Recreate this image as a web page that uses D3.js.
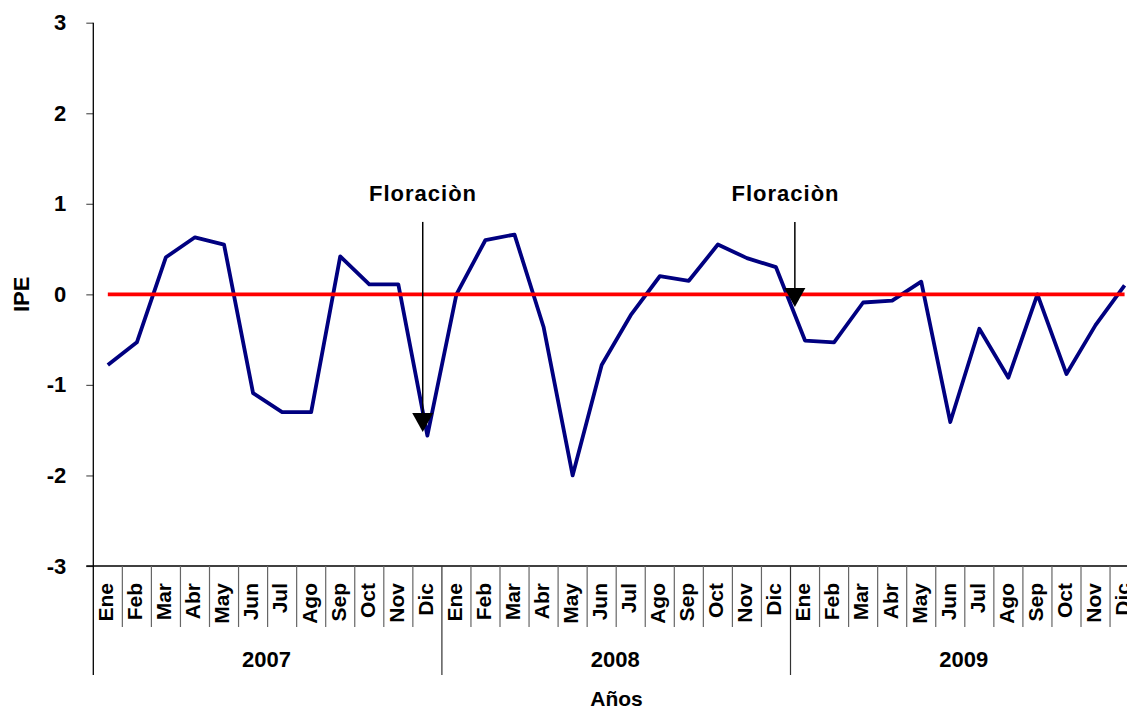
<!DOCTYPE html>
<html>
<head>
<meta charset="utf-8">
<script src="https://cdn.jsdelivr.net/npm/d3@7"></script>
<style>
  html, body { margin: 0; padding: 0; background: #fff; }
  svg { display: block; font-family: "Liberation Sans", Arial, sans-serif; font-weight: bold; }
</style>
</head>
<body>
<svg id="chart" width="1127" height="710"></svg>
<script>
// ---- data ----
const years = ["2007", "2008", "2009"];
const months = ["Ene","Feb","Mar","Abr","May","Jun","Jul","Ago","Sep","Oct","Nov","Dic"];
const ipe2007 = [-0.78, -0.53, 0.41, 0.63, 0.55, -1.09, -1.30, -1.30, 0.42, 0.11, 0.11, -1.56];
const ipe2008 = [0.00, 0.60, 0.66, -0.36, -2.00, -0.78, -0.23, 0.20, 0.15, 0.55, 0.40, 0.30];
const ipe2009 = [-0.51, -0.53, -0.09, -0.07, 0.14, -1.41, -0.38, -0.92, 0.00, -0.88, -0.34, 0.10];
const referenceLevel = 0;
const yTicks = [-3, -2, -1, 0, 1, 2, 3];
const yTickLabels = ["-3", "-2", "-1", "0", "1", "2", "3"];
const annotLabels = ["Floraciòn", "Floraciòn"];
const annotArrowAt = [10.84, 23.65];   // position in month index units
const annotTextAt = [10.85, 23.33];
const annotTipValue = [-1.52, -0.14];
const annotTopValue = 0.80;
const annotTextValue = 1.03;
const yLabel = "IPE";
const xLabel = "Años";

(function () {
// ---- build ----
const ipeByYear = [ipe2007, ipe2008, ipe2009];
const rows = [];
years.forEach((yr, yi) => months.forEach((m, mi) => rows.push({key: yr + "-" + m, year: yr, month: m, value: ipeByYear[yi][mi]})));

const svg = d3.select("#chart");
const pLeft = 93.3, pRight = 1139.1, pTop = 22.7, pBottom = 566;

const x = d3.scaleBand().domain(rows.map(d => d.key)).range([pLeft, pRight]).padding(0);
const xIdx = d3.scaleLinear().domain([-0.5, rows.length - 0.5]).range([pLeft, pRight]);
const y = d3.scaleLinear().domain([-3, 3]).range([pBottom, pTop]);
const cx = d => x(d.key) + x.bandwidth() / 2;

// y axis
const yAxis = d3.axisLeft(y).tickValues(yTicks).tickSize(7).tickPadding(20)
  .tickFormat(d => yTickLabels[yTicks.indexOf(d)]);
const gy = svg.append("g").attr("transform", `translate(${pLeft},0)`).call(yAxis);
gy.select(".domain").remove();
gy.selectAll(".tick line").attr("stroke", "#555").attr("stroke-width", 1.2);
gy.selectAll(".tick text").attr("font-size", 22).attr("font-weight", "bold").attr("fill", "#000")
  .attr("font-family", "Liberation Sans, Arial, sans-serif");
svg.append("line").attr("x1", pLeft).attr("x2", pLeft).attr("y1", pTop).attr("y2", 675)
  .attr("stroke", "#000").attr("stroke-width", 1.3);

// x axis baseline
svg.append("line").attr("x1", pLeft - 7).attr("x2", pRight).attr("y1", pBottom).attr("y2", pBottom)
  .attr("stroke", "#000").attr("stroke-width", 1.3);

// month separators
svg.append("g").selectAll("line").data(rows.slice(1)).join("line")
  .attr("x1", d => x(d.key)).attr("x2", d => x(d.key))
  .attr("y1", pBottom).attr("y2", d => d.month === "Ene" ? 675 : 627)
  .attr("stroke", d => d.month === "Ene" ? "#333" : "#666").attr("stroke-width", 1.2);
svg.append("line").attr("x1", pRight).attr("x2", pRight).attr("y1", pBottom).attr("y2", 675)
  .attr("stroke", "#333").attr("stroke-width", 1.2);

// month labels
svg.append("g").selectAll("text").data(rows).join("text")
  .attr("transform", d => `translate(${cx(d) - 2},583) rotate(-90)`)
  .attr("text-anchor", "end").attr("dy", "0.35em")
  .attr("font-size", 21).attr("fill", "#000")
  .text(d => d.month);

// year labels
svg.append("g").selectAll("text").data(years).join("text")
  .attr("x", yr => {
    const ks = rows.filter(r => r.year === yr);
    return (x(ks[0].key) + x(ks[ks.length - 1].key) + x.bandwidth()) / 2 - 1;
  })
  .attr("y", 666.5).attr("text-anchor", "middle").attr("font-size", 22).attr("fill", "#000")
  .text(yr => yr);

// axis titles
svg.append("text").attr("transform", `translate(28.5,${y(0)}) rotate(-90)`)
  .attr("text-anchor", "middle").attr("font-size", 22).text(yLabel);
svg.append("text").attr("x", 616.5).attr("y", 706).attr("text-anchor", "middle")
  .attr("font-size", 21).text(xLabel);

// IPE line
const line = d3.line().x(cx).y(d => y(d.value));
svg.append("path").datum(rows).attr("d", line)
  .attr("fill", "none").attr("stroke", "#000080").attr("stroke-width", 3.8)
  .attr("stroke-linejoin", "round");

// reference line at 0
svg.append("line")
  .attr("x1", cx(rows[0])).attr("x2", cx(rows[rows.length - 1]))
  .attr("y1", y(referenceLevel)).attr("y2", y(referenceLevel))
  .attr("stroke", "#ff0000").attr("stroke-width", 3.8);

// annotations
annotLabels.forEach((lab, i) => {
  const ax = xIdx(annotArrowAt[i]);
  const tipY = y(annotTipValue[i]);
  const headH = 19, headW = 21;
  svg.append("line").attr("x1", ax).attr("x2", ax)
    .attr("y1", y(annotTopValue)).attr("y2", tipY - headH + 2)
    .attr("stroke", "#000").attr("stroke-width", 1.5);
  svg.append("path")
    .attr("d", `M${ax - headW / 2},${tipY - headH} L${ax + headW / 2},${tipY - headH} L${ax},${tipY} Z`)
    .attr("fill", "#000");
  svg.append("text").attr("x", xIdx(annotTextAt[i])).attr("y", y(annotTextValue))
    .attr("text-anchor", "middle").attr("font-size", 22).attr("letter-spacing", 1)
    .attr("fill", "#000").text(lab);
});
})();
</script>
</body>
</html>
